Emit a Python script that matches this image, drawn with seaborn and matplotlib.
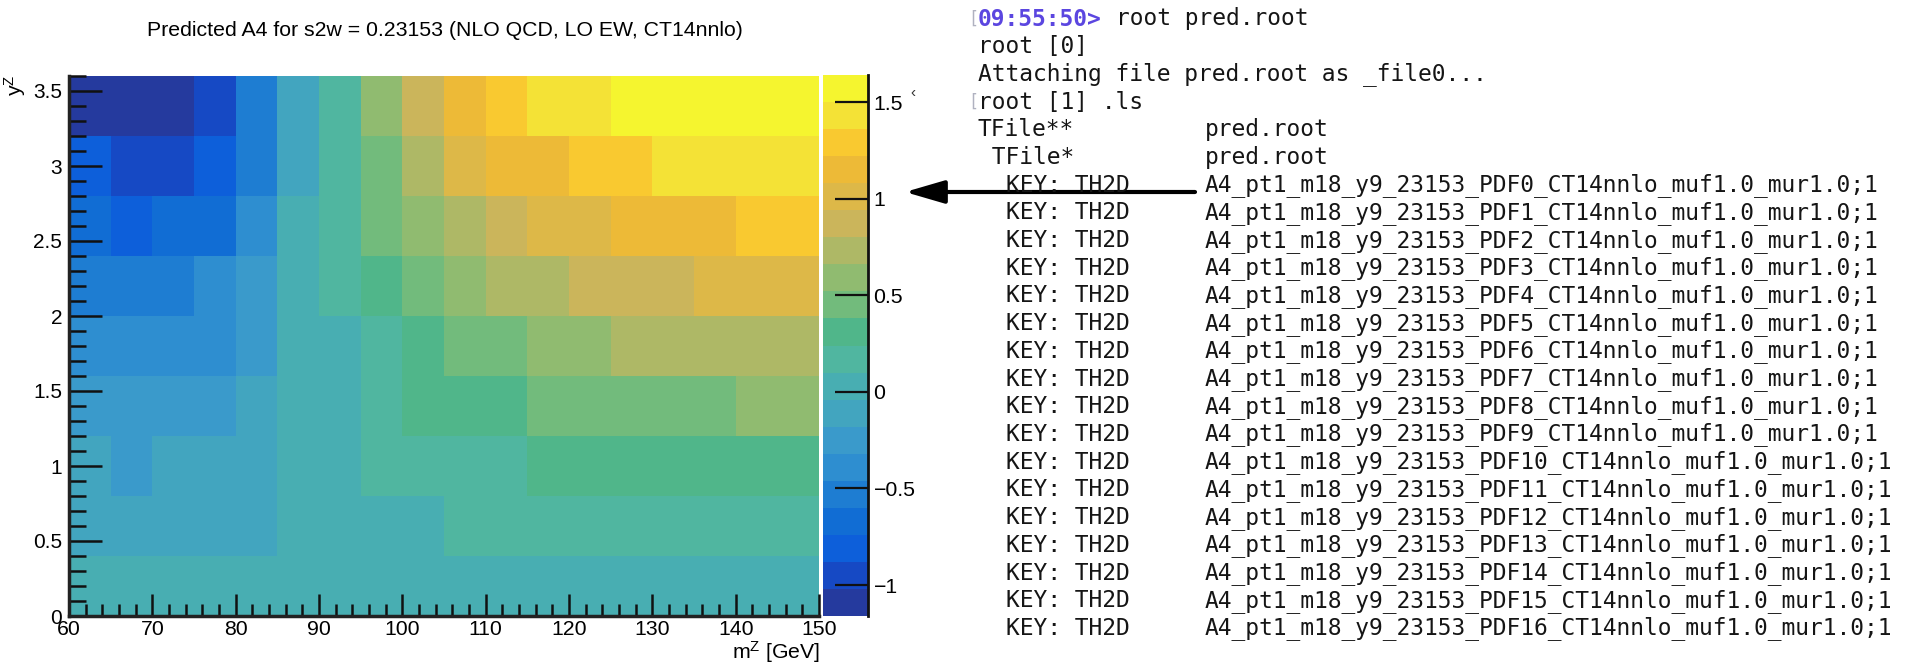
"""
Predicted A4 map (ROOT COLZ look) next to the terminal listing of pred.root.
"""

import matplotlib

matplotlib.use("Agg")
import matplotlib.pyplot as plt
import numpy as np
import pandas as pd
import seaborn as sns
from matplotlib.colors import ListedColormap
from matplotlib.patches import FancyArrowPatch

# ---- histogram binning (TH2D with 18 x 9 bins) ----
M_EDGES = [60, 65, 70, 75, 80, 85, 90, 95, 100, 105, 110, 115, 120, 125, 130, 135, 140, 145, 150]
Y_EDGES = [0.0, 0.4, 0.8, 1.2, 1.6, 2.0, 2.4, 2.8, 3.2, 3.6]

# ---- A4 per bin, one list per y^Z bin (columns follow M_EDGES) ----
A4_Y_0p0 = [0.03, 0.02, 0.02, 0.01, 0.02, 0.02, 0.03, 0.03, 0.04, 0.04, 0.04, 0.05, 0.04, 0.04, 0.03, 0.03, 0.04, 0.04]
A4_Y_0p4 = [-0.10, -0.11, -0.12, -0.11, -0.09, 0.00, 0.02, 0.05, 0.08, 0.13, 0.15, 0.16, 0.17, 0.17, 0.18, 0.18, 0.17, 0.18]
A4_Y_0p8 = [-0.12, -0.22, -0.14, -0.12, -0.08, -0.01, 0.05, 0.14, 0.18, 0.20, 0.22, 0.28, 0.30, 0.31, 0.32, 0.32, 0.31, 0.30]
A4_Y_1p2 = [-0.26, -0.27, -0.25, -0.22, -0.12, -0.02, 0.06, 0.18, 0.27, 0.32, 0.36, 0.41, 0.44, 0.46, 0.48, 0.50, 0.54, 0.56]
A4_Y_1p6 = [-0.40, -0.41, -0.38, -0.34, -0.24, -0.03, 0.07, 0.19, 0.32, 0.42, 0.50, 0.56, 0.62, 0.68, 0.72, 0.74, 0.76, 0.76]
A4_Y_2p0 = [-0.54, -0.55, -0.50, -0.42, -0.26, -0.01, 0.13, 0.28, 0.43, 0.58, 0.68, 0.76, 0.82, 0.86, 0.92, 0.96, 1.00, 1.02]
A4_Y_2p4 = [-0.68, -0.78, -0.70, -0.62, -0.40, -0.02, 0.15, 0.40, 0.57, 0.72, 0.86, 0.97, 1.05, 1.10, 1.14, 1.20, 1.25, 1.30]
A4_Y_2p8 = [-0.82, -0.95, -0.92, -0.80, -0.52, -0.07, 0.12, 0.46, 0.72, 1.00, 1.12, 1.18, 1.24, 1.32, 1.40, 1.44, 1.46, 1.47]
A4_Y_3p2 = [-1.16, -1.12, -1.05, -0.94, -0.55, -0.10, 0.14, 0.60, 0.88, 1.14, 1.30, 1.40, 1.47, 1.53, 1.58, 1.62, 1.64, 1.63]
A4_ROWS = [A4_Y_0p0, A4_Y_0p4, A4_Y_0p8, A4_Y_1p2, A4_Y_1p6, A4_Y_2p0, A4_Y_2p4, A4_Y_2p8, A4_Y_3p2]

X_TICKS = [60, 70, 80, 90, 100, 110, 120, 130, 140, 150]
X_TICK_LABELS = ["60", "70", "80", "90", "100", "110", "120", "130", "140", "150"]
Y_TICKS = [0.0, 0.5, 1.0, 1.5, 2.0, 2.5, 3.0, 3.5]
Y_TICK_LABELS = ["0", "0.5", "1", "1.5", "2", "2.5", "3", "3.5"]
Z_TICKS = [-1.0, -0.5, 0.0, 0.5, 1.0, 1.5]
Z_TICK_LABELS = ["\u22121", "\u22120.5", "0", "0.5", "1", "1.5"]

TITLE = "Predicted A4 for s2w = 0.23153 (NLO QCD, LO EW, CT14nnlo)"

# ---- terminal listing ----
PROMPT = "09:55:50>"
TERM_HEAD = ["root pred.root", "root [0]", "Attaching file pred.root as _file0...", "root [1] .ls"]
TFILE_ROWS = [("TFile**", "pred.root"), (" TFile*", "pred.root")]
KEY_NAMES = [f"A4_pt1_m18_y9_23153_PDF{i}_CT14nnlo_muf1.0_mur1.0;1" for i in range(17)]

# ROOT kBird palette with 20 contour levels, as it shows on screen
BIRD_20 = [
    "#253a9e", "#1649c4", "#0d5fda", "#116dd4", "#1e7dd2",
    "#2e8ed0", "#3a9acb", "#42a5bf", "#48aeb2", "#50b6a0",
    "#50b68a", "#72bb7c", "#90bb70", "#aeb866", "#cbb55b",
    "#ddb848", "#edba37", "#f9c930", "#f4e236", "#f5f52f",
]

plt.rcParams.update(
    {
        "font.family": ["Liberation Sans", "DejaVu Sans"],
        "mathtext.fontset": "custom",
        "mathtext.rm": "Liberation Sans",
        "mathtext.it": "Liberation Sans",
        "mathtext.default": "regular",
        "axes.unicode_minus": True,
    }
)

W, H = 1915, 665


def px_box(x0, y0, x1, y1):
    """Axes rectangle from pixel corners measured from the top-left."""
    return [x0 / W, 1 - y1 / H, (x1 - x0) / W, (y1 - y0) / H]


def fx(x):
    return x / W


def fy(y):
    return 1 - y / H


palette = ListedColormap(BIRD_20)

fig = plt.figure(figsize=(W / 100, H / 100), dpi=100)
fig.patch.set_facecolor("white")
ax = fig.add_axes(px_box(69, 76, 819, 616))
cax = fig.add_axes(px_box(823, 75, 868, 616))

# heatmap rows go top to bottom, so flip the y order
col_labels = [f"{a}-{b}" for a, b in zip(M_EDGES[:-1], M_EDGES[1:])]
row_labels = [f"{a:.1f}-{b:.1f}" for a, b in zip(Y_EDGES[:-1], Y_EDGES[1:])]
grid = pd.DataFrame(A4_ROWS[::-1], index=row_labels[::-1], columns=col_labels)

sns.heatmap(
    grid,
    ax=ax,
    cbar_ax=cax,
    cmap=palette,
    vmin=grid.values.min(),
    vmax=grid.values.max(),
    xticklabels=False,
    yticklabels=False,
)

# map physical values onto heatmap cell coordinates
m_width = M_EDGES[1] - M_EDGES[0]
y_width = Y_EDGES[1] - Y_EDGES[0]


def m_pos(m):
    return (np.asarray(m, dtype=float) - M_EDGES[0]) / m_width


def y_pos(v):
    return (Y_EDGES[-1] - np.asarray(v, dtype=float)) / y_width


x_minor = [m for m in np.arange(M_EDGES[0], M_EDGES[-1] + 1, 2) if m % 10]
y_minor = [v for v in np.round(np.arange(0.0, 3.61, 0.1), 1) if abs(v * 2 - round(v * 2)) > 1e-6]

ax.set_xticks(m_pos(X_TICKS))
ax.set_xticklabels(X_TICK_LABELS)
ax.set_xticks(m_pos(x_minor), minor=True)
ax.set_yticks(y_pos(Y_TICKS))
ax.set_yticklabels(Y_TICK_LABELS)
ax.set_yticks(y_pos(y_minor), minor=True)

ax.tick_params(axis="x", which="major", direction="in", length=16, width=1.8, pad=3, labelsize=15.3, color="#111111")
ax.tick_params(axis="x", which="minor", direction="in", length=9, width=1.8, color="#111111")
ax.tick_params(axis="y", which="major", direction="in", length=24, width=1.8, pad=5, labelsize=15, color="#111111")
ax.tick_params(axis="y", which="minor", direction="in", length=12, width=1.8, color="#111111")

for side in ["left", "bottom"]:
    ax.spines[side].set_visible(True)
    ax.spines[side].set_color("#222222")
    ax.spines[side].set_linewidth(2.5)
for side in ["top", "right"]:
    ax.spines[side].set_visible(False)

# colour palette axis on the right, ROOT style
cbar = ax.collections[0].colorbar
cbar.set_ticks(Z_TICKS, labels=Z_TICK_LABELS)
cax.minorticks_off()
cax.tick_params(axis="y", direction="in", length=24, width=1.6, pad=4, labelsize=15.3, right=True, left=False, color="#111111")
cax.spines["right"].set_visible(True)
cax.spines["right"].set_color("#111111")
cax.spines["right"].set_linewidth(2)

fig.text(fx(445), fy(30), TITLE, ha="center", va="center", fontsize=15.3)
fig.text(fx(820), fy(652), r"m$^{Z}$ [GeV]", ha="right", va="center", fontsize=15.3)
fig.text(fx(15), fy(75), r"y$^{Z}$", ha="center", va="top", rotation=90, fontsize=15.3)
fig.text(fx(913), fy(93), "\u2039", ha="center", va="center", fontsize=11, color="#333333")

# ---- terminal listing ----
MONO = "DejaVu Sans Mono"
TERM_SIZE = 16.5
TERM_COLOR = "#151515"
LEFT = 978
COL_W = 13.8
NAME_X = 1205
LINE0 = 19
LINE_H = 27.7


def line_y(i):
    return fy(LINE0 + i * LINE_H)


def term_text(x, i, s, **kw):
    style = {"family": MONO, "fontsize": TERM_SIZE, "color": TERM_COLOR, "ha": "left", "va": "center"}
    style.update(kw)
    fig.text(fx(x), line_y(i), s, **style)


term_text(968, 0, "[", fontsize=12, color="#b0b2c0")
term_text(LEFT, 0, PROMPT, color="#5b46e0", fontweight="bold")
term_text(LEFT + (len(PROMPT) + 1) * COL_W, 0, TERM_HEAD[0])
for i, line in enumerate(TERM_HEAD[1:], start=1):
    term_text(LEFT, i, line)
term_text(968, 3, "[", fontsize=12, color="#b0b2c0")

row = len(TERM_HEAD)
for left_txt, right_txt in TFILE_ROWS:
    term_text(LEFT, row, left_txt)
    term_text(NAME_X, row, right_txt)
    row += 1

for name in KEY_NAMES:
    term_text(LEFT + 2 * COL_W, row, "KEY: TH2D")
    term_text(NAME_X, row, name)
    row += 1

# arrow from the PDF0 key back to the map
arrow = FancyArrowPatch(
    posA=(fx(1195), fy(192)),
    posB=(fx(905), fy(192)),
    transform=fig.transFigure,
    arrowstyle="-|>,head_length=1.2,head_width=0.35",
    mutation_scale=20,
    lw=3,
    color="black",
    shrinkA=0,
    shrinkB=0,
)
fig.patches.append(arrow)

fig.savefig("out.png", dpi=100)
plt.close(fig)
